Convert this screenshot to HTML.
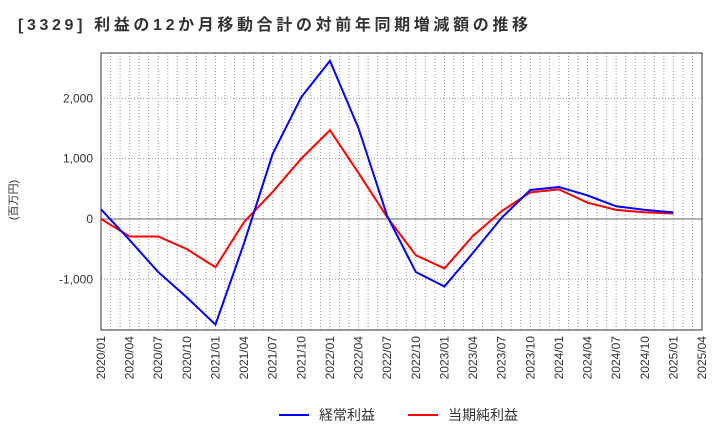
<!DOCTYPE html>
<html><head><meta charset="utf-8"><style>
body{margin:0;background:#fff;font-family:"Liberation Sans","Noto Sans CJK JP",sans-serif;}
svg text{font-family:"Liberation Sans","Noto Sans CJK JP",sans-serif;}
</style></head><body>
<svg id="c" width="720" height="440"></svg>
<script>
const categories=["2020/01","2020/04","2020/07","2020/10","2021/01","2021/04","2021/07","2021/10","2022/01","2022/04","2022/07","2022/10","2023/01","2023/04","2023/07","2023/10","2024/01","2024/04","2024/07","2024/10","2025/01","2025/04"];
const keijoValues=[160,-350,-880,-1300,-1750,-400,1080,2020,2620,1500,50,-880,-1120,-560,20,480,530,390,210,150,110];
const junValues=[0,-290,-290,-500,-800,-50,450,1000,1470,760,30,-600,-820,-280,130,440,490,270,150,110,90];
const yTicks=[-1000,0,1000,2000];
const yTickLabels=["-1,000","0","1,000","2,000"];
const NS="http://www.w3.org/2000/svg";
const svg=document.getElementById('c');
const L=101,R=702,T=53,B=330;
const yMin=-1840,yMax=2750;
const xs=i=>L+(R-L)*i/(categories.length-1);
const ys=v=>B-(v-yMin)/(yMax-yMin)*(B-T);
function mk(t,a){const e=document.createElementNS(NS,t);for(const k in a)e.setAttribute(k,a[k]);svg.appendChild(e);return e;}
let t=mk('text',{x:18,y:30,'font-size':16,'font-weight':'bold',fill:'#333',textLength:510,lengthAdjust:'spacing'});t.textContent="[3329]  利益の12か月移動合計の対前年同期増減額の推移";

for(let m=0;m<=63;m++){const x=L+(R-L)*m/63;const l=mk('line',{x1:x,x2:x,y1:T,y2:B,stroke:'#999','stroke-dasharray':'1,2','stroke-width':1});
}
yTicks.forEach((v,i)=>{const y=ys(v);const l=mk('line',{x1:L,x2:R,y1:y,y2:y,stroke:v===0?'#666':'#999','stroke-dasharray':v===0?'':'1,2','stroke-width':1});

const tx=mk('text',{x:L-8,y:y+4,'text-anchor':'end','font-size':12,fill:'#333'});tx.textContent=yTickLabels[i];
});
const fr=mk('rect',{x:L,y:T,width:R-L,height:B-T,fill:'none',stroke:'#333','stroke-width':1});

categories.forEach((c,i)=>{const x=xs(i);const tx=mk('text',{x:x+4,y:B+6,'text-anchor':'end','font-size':12,fill:'#333',transform:`rotate(-90 ${x+4} ${B+6})`});tx.textContent=c;
});
const yt=mk('text',{x:17,y:200,'text-anchor':'middle','font-size':11,fill:'#333',transform:'rotate(-90 17 200)'});yt.textContent="(百万円)";

function line(vals,col,name){const p=mk('polyline',{points:vals.map((v,i)=>xs(i)+','+ys(v)).join(' '),fill:'none',stroke:col,'stroke-width':2});
}
line(junValues,'#f00','series-junrieki');
line(keijoValues,'#00f','series-keijorieki');
function leg(x,col,label,name){const l=mk('line',{x1:x,x2:x+30,y1:415,y2:415,stroke:col,'stroke-width':2});

const tx=mk('text',{x:x+40,y:420,'font-size':14,fill:'#333'});tx.textContent=label;
}
leg(279,'#00f','経常利益','legend-keijorieki');
leg(408,'#f00','当期純利益','legend-junrieki');
</script>
</body></html>
